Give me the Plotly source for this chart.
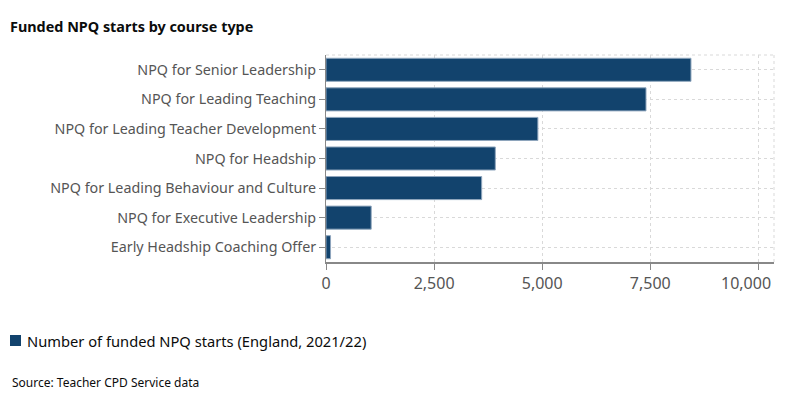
import plotly.graph_objects as go

categories = [
    "NPQ for Senior Leadership",
    "NPQ for Leading Teaching",
    "NPQ for Leading Teacher Development",
    "NPQ for Headship",
    "NPQ for Leading Behaviour and Culture",
    "NPQ for Executive Leadership",
    "Early Headship Coaching Offer",
]
starts = [8440, 7400, 4900, 3915, 3600, 1045, 105]
x_ticks = [0, 2500, 5000, 7500, 10000]
x_tick_labels = ["0", "2,500", "5,000", "7,500", "10,000"]
series_name = "Number of funded NPQ starts (England, 2021/22)"
bar_color = "#12436D"

W, H = 788, 393
L, R, T, B = 326, 14, 55, 131
PW, PH = W - L - R, H - T - B


def px(x):
    return (x - L) / PW


def py(y):
    return (H - B - y) / PH


fig = go.Figure()
fig.add_trace(go.Bar(
    y=categories, x=starts, orientation="h", name=series_name,
    marker=dict(color=bar_color, line=dict(color="#8FA6BD", width=1)),
    showlegend=False,
))

# the last tick label is pulled inside the chart edge, as in the reference
axis_text = x_tick_labels[:-1] + [""]

grid = dict(gridcolor="#D9D9D9", griddash="dot", gridwidth=1)
fig.update_layout(
    width=W, height=H,
    margin=dict(l=L, r=R, t=T, b=B, autoexpand=False),
    paper_bgcolor="white", plot_bgcolor="white",
    font=dict(family="Noto Sans", color="#555555", size=14.3),
    title=dict(text="<b>Funded NPQ starts by course type</b>",
               x=10 / W, xref="container", xanchor="left",
               y=1 - 27 / H, yref="container", yanchor="middle",
               font=dict(family="Noto Sans", size=14.4, color="#0B0C0C")),
    bargap=0.22,
    xaxis=dict(range=[0, 10360], tickvals=x_ticks, ticktext=axis_text,
               showline=True, linecolor="#888888", linewidth=1.5,
               ticks="outside", ticklen=6, tickcolor="#888888",
               tickfont=dict(size=16), automargin=False,
               zeroline=False, **grid),
    yaxis=dict(autorange="reversed", showline=True, linecolor="#888888",
               linewidth=1, ticks="outside", ticklen=6, tickcolor="#888888",
               automargin=False, **grid),
    shapes=[
        dict(type="line", xref="paper", yref="paper", x0=0, x1=1, y0=1, y1=1,
             line=dict(color="#D9D9D9", width=1, dash="dot")),
        dict(type="line", xref="paper", yref="paper", x0=1, x1=1, y0=0, y1=1,
             line=dict(color="#D9D9D9", width=1, dash="dot")),
        dict(type="rect", xref="paper", yref="paper",
             x0=px(10), x1=px(21), y0=py(346), y1=py(335),
             fillcolor=bar_color, line=dict(width=0)),
    ],
    annotations=[
        dict(text=x_tick_labels[-1], xref="x", yref="paper",
             x=x_ticks[-1], y=py(283), xanchor="right", yanchor="middle",
             xshift=15, showarrow=False,
             font=dict(size=16, color="#555555")),
        dict(text=series_name, xref="paper", yref="paper",
             x=px(25), y=py(341), xanchor="left", yanchor="middle",
             showarrow=False, font=dict(size=14.7, color="#0B0C0C")),
        dict(text="Source: Teacher CPD Service data",
             xref="paper", yref="paper", x=px(10), y=py(382),
             xanchor="left", yanchor="middle", showarrow=False,
             font=dict(size=12, color="#0B0C0C")),
    ],
)
fig.write_html("out.html", config={"displayModeBar": False},
               post_script="document.body.style.margin='0';")
